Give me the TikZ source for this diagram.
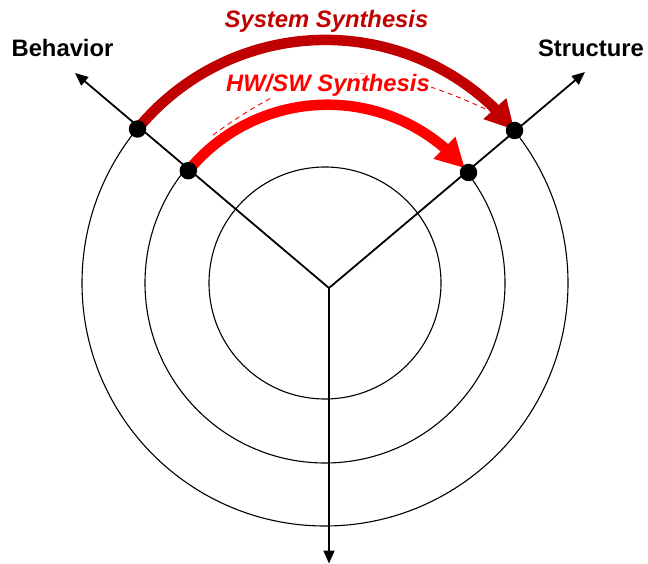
\documentclass[tikz,border=0pt]{standalone}
\usepackage{fontspec}
\setmainfont{Liberation Sans}
\usetikzlibrary{arrows.meta,bending}
\definecolor{darkred}{RGB}{192,0,0}
\definecolor{brightred}{RGB}{255,0,0}
\begin{document}
\begin{tikzpicture}[x=1pt,y=-1pt,
  ring/.style={line width=1.1pt},
  axis/.style={line width=1.8pt,-{Triangle[length=13pt,width=11pt]}},
  dotnode/.style={circle,fill=black,inner sep=0pt,minimum size=17.5pt},
  lab/.style={font=\fontsize{23.8}{28}\selectfont\bfseries, anchor=base, inner sep=1pt},
  labit/.style={lab,font=\fontsize{23.8}{28}\selectfont\bfseries\itshape},
  synarrow/.style={line width=10.5pt,-{Triangle[length=29pt,width=29pt]}},
  guide/.style={brightred,line width=0.9pt,dash pattern=on 5pt off 4pt},
]
\useasboundingbox (0,0) rectangle (648,564);
\coordinate (C) at (325,283);
\draw[ring] (C) circle[radius=116pt];
\draw[ring] (C) circle[radius=180pt];
\draw[ring] (C) circle[radius=243pt];
\coordinate (O) at (329,288);
\coordinate (tb) at (75,73);
\coordinate (ts) at (585,72);
\coordinate (td) at (329,563.5);
\draw[axis] (O) -- (tb);
\draw[axis] (O) -- (ts);
\draw[axis] (O) -- (td);
\coordinate (bo) at (137.5,129);
\coordinate (bm) at (188.3,170.7);
\coordinate (d1) at (213,135);
\coordinate (d2) at (492,112);
\draw[guide] (d1) .. controls (321,56) and (380,60) .. (d2);
\node[labit,text=darkred] (sys) at (326.5,28) {System Synthesis};
\node[labit,fill=white,text=brightred] (hw) at (328,92) {HW/SW Synthesis};
\node[lab] (beh) at (62.5,57) {Behavior};
\node[lab] (str) at (591,57) {Structure};
\draw[synarrow,darkred] (bo) arc[start angle=140.7,end angle=39.0,radius=243pt];
\draw[synarrow,brightred] (bm) arc[start angle=140.7,end angle=40.3,radius=180pt];
\node[dotnode] (Bo) at (bo) {};
\node[dotnode] (Bm) at (bm) {};
\node[dotnode] (So) at (514.5,130.5) {};
\node[dotnode] (Sm) at (468.5,172.5) {};
\end{tikzpicture}
\end{document}
